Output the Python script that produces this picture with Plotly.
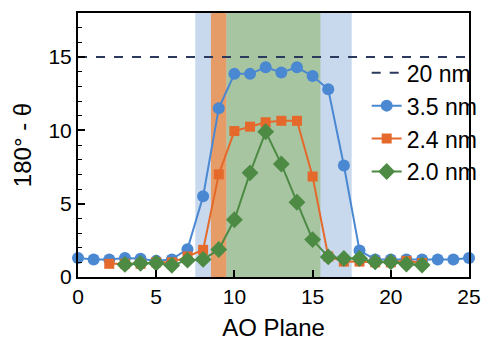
import plotly.graph_objects as go

# Data
planes_35 = list(range(0, 26))
theta_35 = [1.3, 1.2, 1.2, 1.3, 1.25, 1.1, 1.2, 1.9, 5.5, 11.5, 13.85, 13.85, 14.3, 13.95, 14.3, 13.7,
            12.8, 7.6, 1.8, 1.2, 1.2, 1.2, 1.2, 1.2, 1.2, 1.3]
planes_24 = list(range(2, 23))
theta_24 = [0.9, 0.9, 0.9, 1.0, 1.0, 1.4, 1.85, 7.0, 9.95, 10.25, 10.55, 10.65, 10.65, 6.85,
            1.4, 1.05, 1.05, 1.0, 1.0, 1.1, 0.95]
planes_20 = list(range(3, 23))
theta_20 = [0.86, 0.93, 0.95, 0.8, 1.15, 1.2, 1.87, 3.9, 7.1, 9.9, 7.7, 5.1, 2.55, 1.37,
            1.26, 1.26, 1.03, 1.03, 0.88, 0.82]
ref_20nm = 15
regions = [  # (x0, x1, color)
    (7.5, 17.5, "rgb(200,216,237)"),
    (8.5, 9.5, "rgb(230,156,102)"),
    (9.5, 15.5, "rgb(168,197,161)"),
]
x_ticks = [0, 5, 10, 15, 20, 25]
y_ticks = [0, 5, 10, 15]

BLUE = "#4a88d2"
ORANGE = "#e4692a"
GREEN = "#4d8b45"
NAVY = "#2b3a5c"

fig = go.Figure()

fig.add_trace(go.Scatter(x=[0, 25], y=[ref_20nm, ref_20nm], mode="lines", name="20 nm",
                         line=dict(color=NAVY, width=2.2, dash="dash")))
fig.add_trace(go.Scatter(x=planes_35, y=theta_35, mode="lines+markers", name="3.5 nm",
                         line=dict(color=BLUE, width=2),
                         marker=dict(symbol="circle", size=12, color=BLUE), cliponaxis=False))
fig.add_trace(go.Scatter(x=planes_24, y=theta_24, mode="lines+markers", name="2.4 nm",
                         line=dict(color=ORANGE, width=2),
                         marker=dict(symbol="square", size=10, color=ORANGE), cliponaxis=False))
fig.add_trace(go.Scatter(x=planes_20, y=theta_20, mode="lines+markers", name="2.0 nm",
                         line=dict(color=GREEN, width=2),
                         marker=dict(symbol="diamond", size=13, color=GREEN), cliponaxis=False))

for x0, x1, c in regions:
    fig.add_shape(type="rect", xref="x", yref="y", x0=x0, x1=x1, y0=0, y1=18,
                  fillcolor=c, line=dict(width=0), layer="below")

font_family = "Liberation Sans, Arial, sans-serif"
fig.update_layout(
    width=494, height=349,
    margin=dict(l=78, r=13, t=11, b=72),
    paper_bgcolor="white", plot_bgcolor="white",
    font=dict(family=font_family, size=21, color="black"),
    showlegend=True,
    legend=dict(x=1.035, y=0.855, xanchor="right", yanchor="top",
                bgcolor="rgba(0,0,0,0)", font=dict(size=23),
                tracegroupgap=0, itemwidth=30),
    xaxis=dict(range=[0, 25], tickvals=x_ticks, ticks="inside", ticklen=7, tickwidth=1.5,
               tickcolor="black", showline=True, linecolor="black", linewidth=2, mirror=True,
               showgrid=False, zeroline=False,
               title=dict(text="AO Plane", font=dict(size=24), standoff=12)),
    yaxis=dict(range=[0, 18], tickvals=y_ticks, ticks="inside", ticklen=7, tickwidth=1.5,
               tickcolor="black", showline=True, linecolor="black", linewidth=2, mirror=True,
               showgrid=False, zeroline=False,
               minor=dict(dtick=1, ticks="inside", ticklen=4, tickwidth=1.2, tickcolor="black",
                          showgrid=False),
               title=dict(text="180° - θ", font=dict(size=24), standoff=10)),
)

fig.write_html("out.html")
